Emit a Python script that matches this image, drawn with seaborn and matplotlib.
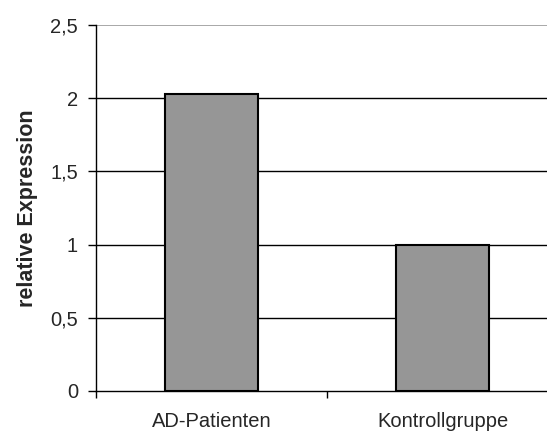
import seaborn as sns
import matplotlib.pyplot as plt
from matplotlib.ticker import FixedLocator

# data
gruppen = ['AD-Patienten', 'Kontrollgruppe']
expression = [2.027, 1.0]
y_ticks = [0, 0.5, 1, 1.5, 2, 2.5]
y_labels = ['0', '0,5', '1', '1,5', '2', '2,5']

sns.set_style('white')
plt.rcParams['font.family'] = ['Liberation Sans', 'DejaVu Sans']

fig = plt.figure(figsize=(5.47, 4.32), dpi=100)
ax = fig.add_axes([96 / 547, 41 / 432, 462 / 547, 366 / 432])

# gridlines behind the bars
for v in y_ticks[1:-1]:
    ax.axhline(v, color='black', lw=1, zorder=0)
ax.axhline(2.5, color='#999999', lw=1.2, zorder=0)

sns.barplot(x=gruppen, y=expression, color='#969696', width=0.405,
            edgecolor='black', linewidth=1.5, saturation=1, ax=ax, zorder=2)

ax.set_xlim(-0.5, 1.5)
ax.set_ylim(0, 2.5)
ax.set_yticks(y_ticks)
ax.set_yticklabels(y_labels, fontsize=14.5)
ax.set_ylabel('relative Expression', fontsize=15.5, fontweight='bold', labelpad=9)
ax.set_xlabel('')

for s in ['top', 'right']:
    ax.spines[s].set_visible(False)
ax.spines['left'].set_color('black')
ax.spines['bottom'].set_color('black')
ax.spines['left'].set_linewidth(1)
ax.spines['bottom'].set_linewidth(1)

ax.tick_params(axis='y', direction='out', length=6, width=1, color='black', left=True, pad=7)
ax.tick_params(axis='x', which='major', length=0, labelsize=14.5, pad=15)
ax.xaxis.set_minor_locator(FixedLocator([-0.5, 0.5, 1.5]))
ax.tick_params(axis='x', which='minor', direction='out', length=5, width=1, color='black', bottom=True)

fig.savefig('out.png', dpi=100)
